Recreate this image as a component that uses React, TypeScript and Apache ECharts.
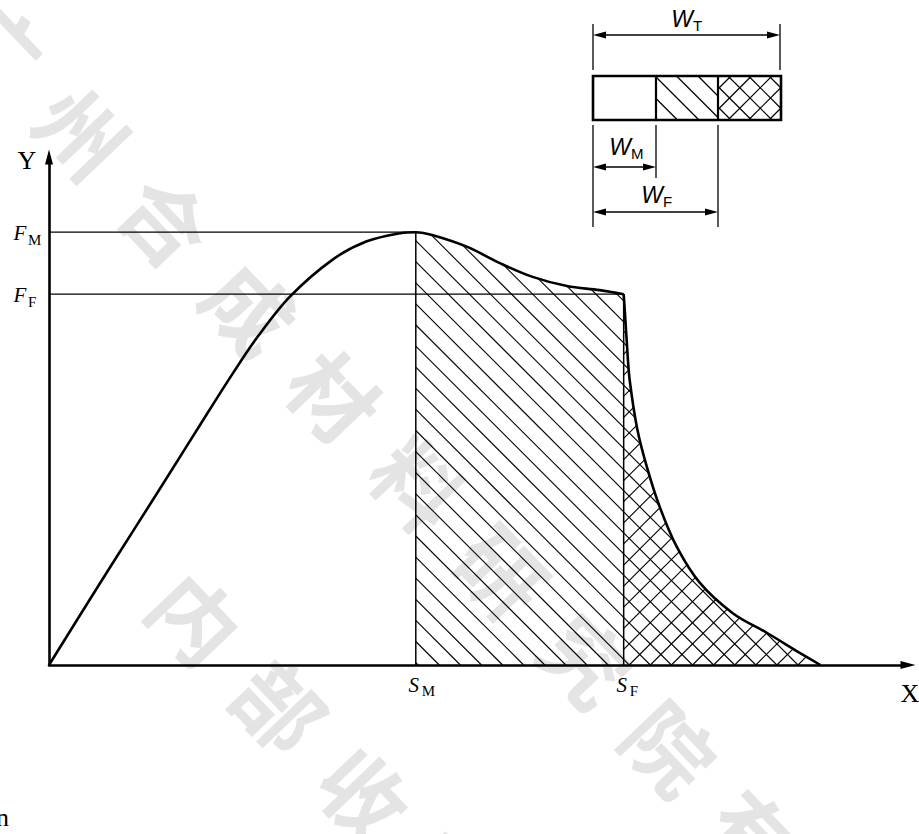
import React, { useEffect, useRef } from "react";
import * as echarts from "echarts";

// ---- data (arbitrary units, 0..100 on both axes) ----
const riseX = [0, 5.9, 9.8, 13.7, 17.6, 21.4, 24.2, 28.1, 33.1, 37.0, 40.9, 42.7, 44.7, 48.7, 52.5, 56.3, 60.3, 64.1, 66.9];
const riseY = [0, 16.0, 26.4, 36.8, 47.3, 57.4, 64.4, 72.6, 79.9, 83.4, 85.0, 85.2, 84.6, 82.3, 79.1, 76.4, 74.6, 73.8, 73.0];
const dropX = [66.9, 67.05, 67.3, 67.6, 68.5, 69.6, 71.1, 73.1, 75.8, 79.6, 83.6, 87.4, 89.8];
const dropY = [73.0, 69.3, 62.6, 56.1, 46.3, 39.0, 31.1, 23.2, 16.1, 10.2, 6.3, 2.4, 0];

const S_M = 42.7;
const S_F = 66.9;
const F_M = 85.2;
const F_F = 73.0;
const HATCH_ANCHOR_X = 70.0;

const yMarkValues = [F_M, F_F];
const yMarkSubs = ["M", "F"];
const xMarkValues = [S_M, S_F];
const xMarkSubs = ["M", "F"];
const axisNames = ["X", "Y"];
const insetSubs = ["T", "M", "F"];

const watermarkLine1 = "广州合成材料研究院有限公司";
const watermarkLine2 = "内部收藏";

type Pt = number[];

function hatch(poly: Pt[], dir: number, spacing: number, phase: number): Pt[][] {
  const f = (p: Pt) => (dir === 1 ? p[0] - p[1] : p[0] + p[1]);
  const vals = poly.map(f);
  const min = Math.min(...vals);
  const max = Math.max(...vals);
  const segs: Pt[][] = [];
  let c = phase + Math.ceil((min - phase) / spacing) * spacing;
  for (; c <= max; c += spacing) {
    const pts: Pt[] = [];
    for (let i = 0; i < poly.length; i++) {
      const a = poly[i];
      const b = poly[(i + 1) % poly.length];
      const fa = f(a) - c;
      const fb = f(b) - c;
      if ((fa < 0 && fb >= 0) || (fb < 0 && fa >= 0)) {
        const t = fa / (fa - fb);
        pts.push([a[0] + t * (b[0] - a[0]), a[1] + t * (b[1] - a[1])]);
      }
    }
    pts.sort((p, q) => p[0] - q[0]);
    for (let k = 0; k + 1 < pts.length; k += 2) segs.push([pts[k], pts[k + 1]]);
  }
  return segs;
}

const lineEl = (x1: number, y1: number, x2: number, y2: number, w: number, z = 5) => ({
  type: "line",
  z,
  shape: { x1, y1, x2, y2 },
  style: { stroke: "#000", lineWidth: w },
});

const textEl = (
  text: string,
  x: number,
  y: number,
  font: string,
  align = "center",
  vAlign = "middle",
  extra: any = {}
) => ({
  type: "text",
  x,
  y,
  ...extra,
  style: {
    text,
    font,
    fill: extra.fill || "#000",
    align,
    verticalAlign: vAlign,
    textAlign: align,
    textVerticalAlign: vAlign,
  },
});

const arrowHead = (tx: number, ty: number, dir: number) => ({
  type: "polygon",
  z: 6,
  shape: {
    points: [
      [tx, ty],
      [tx + dir * 13, ty - 3.5],
      [tx + dir * 13, ty + 3.5],
    ],
  },
  style: { fill: "#000" },
});

function buildGraphic() {
  const g: any[] = [];
  // watermark
  const step = [84, 88];
  const rot = -Math.atan2(step[1], step[0]);
  const wmFont = 'bold 86px "Noto Sans CJK SC"';
  Array.from(watermarkLine1).forEach((ch, i) => {
    g.push(textEl(ch, 0 + i * step[0], 42 + i * step[1], wmFont, "center", "middle", { rotation: rot, z: 0, fill: "#e4e4e4" }));
  });
  Array.from(watermarkLine2).forEach((ch, i) => {
    g.push(textEl(ch, 198 + i * step[0], 616 + i * step[1], wmFont, "center", "middle", { rotation: rot, z: 0, fill: "#e4e4e4" }));
  });

  // axis names
  g.push(textEl(axisNames[1], 27, 160, '26px "Liberation Serif"', "center", "middle", { z: 5 }));
  g.push(textEl(axisNames[0], 910, 693, '26px "Liberation Serif"', "center", "middle", { z: 5 }));

  // stray caption fragment bottom-left
  g.push(textEl("n", 9, 830, '26px "Liberation Serif"', "right", "bottom", { z: 5 }));

  // ---- inset schematic ----
  const bx = 593, by = 76, bw = 188, bh = 44;
  const d1 = 656, d2 = 718;
  g.push(lineEl(bx, 24, bx, 70, 1.3));
  g.push(lineEl(bx + bw - 1, 24, bx + bw - 1, 70, 1.3));
  g.push(lineEl(bx, 125, bx, 227, 1.3));
  g.push(lineEl(d1, 125, d1, 178, 1.3));
  g.push(lineEl(d2, 125, d2, 227, 1.3));
  const dims = [
    [bx, bx + bw - 1, 35],
    [bx, d1, 167],
    [bx, d2, 212],
  ];
  dims.forEach(([a, b, y]) => {
    g.push(lineEl(a + 4, y, b - 4, y, 1.3));
    g.push(arrowHead(a, y, 1));
    g.push(arrowHead(b, y, -1));
  });
  const cellM = [[d1, by], [d2, by], [d2, by + bh], [d1, by + bh]];
  const cellF = [[d2, by], [bx + bw, by], [bx + bw, by + bh], [d2, by + bh]];
  hatch(cellM, 1, 21.5, 579).forEach(([p, q]) => g.push(lineEl(p[0], p[1], q[0], q[1], 1.2)));
  hatch(cellF, 1, 20.5, 652).forEach(([p, q]) => g.push(lineEl(p[0], p[1], q[0], q[1], 1.2)));
  hatch(cellF, -1, 20.5, 848).forEach(([p, q]) => g.push(lineEl(p[0], p[1], q[0], q[1], 1.2)));
  g.push({ type: "rect", z: 7, shape: { x: bx, y: by, width: bw, height: bh }, style: { fill: "none", stroke: "#000", lineWidth: 2.6 } });
  g.push(lineEl(d1, by, d1, by + bh, 2.2, 7));
  g.push(lineEl(d2, by, d2, by + bh, 2.2, 7));
  const wFont = 'italic 23px "Liberation Sans"';
  const sFont = '15px "Liberation Sans"';
  const wPos = [
    [682, 19],
    [620, 147],
    [652, 195],
  ];
  wPos.forEach(([x, y], i) => {
    g.push(textEl("W", x, y, wFont, "center", "middle", { z: 6 }));
    g.push(textEl(insetSubs[i], x + 11, y + 6, sFont, "left", "middle", { z: 6 }));
  });
  return g;
}

const renderItem = (params: any, api: any) => {
  const P = (x: number, y: number) => api.coord([x, y]);
  const rise = riseX.map((x, i) => [x, riseY[i]]);
  const drop = dropX.map((x, i) => [x, dropY[i]]);
  const poly1 = [[S_M, 0], ...rise.filter((p) => p[0] >= S_M), [S_F, 0]].map((p) => P(p[0], p[1]));
  const poly2 = [[S_F, 0], ...drop].map((p) => P(p[0], p[1]));
  const anchor = P(HATCH_ANCHOR_X, 0);
  const phaseBack = anchor[0] - anchor[1];
  const phaseFwd = anchor[0] + anchor[1];
  const sp = 21.1;
  const children: any[] = [];
  const add = (segs: Pt[][]) =>
    segs.forEach(([a, b]) => children.push(lineEl(a[0], a[1], b[0], b[1], 1.1)));
  add(hatch(poly1, 1, sp, phaseBack));
  add(hatch(poly2, 1, sp, phaseBack));
  add(hatch(poly2, -1, sp, phaseFwd));

  const o = P(0, 0);
  const pm = P(S_M, F_M);
  const pf = P(S_F, F_F);
  children.push(lineEl(o[0], pm[1], pm[0], pm[1], 1.3));
  children.push(lineEl(o[0], pf[1], pf[0], pf[1], 1.3));
  children.push(lineEl(pm[0], o[1], pm[0], pm[1], 1.5));
  children.push(lineEl(pf[0], o[1], pf[0], pf[1], 1.5));

  const symFont = 'italic 21px "Liberation Serif"';
  const subFont = '15px "Liberation Serif"';
  yMarkValues.forEach((v, i) => {
    const p = P(0, v);
    children.push(textEl("F", p[0] - 29, p[1] + 1, symFont, "center", "middle"));
    children.push(textEl(yMarkSubs[i], p[0] - 21, p[1] + 8, subFont, "left", "middle"));
  });
  xMarkValues.forEach((v, i) => {
    const p = P(v, 0);
    children.push(textEl("S", p[0] - 2, p[1] + 20, symFont, "center", "middle"));
    children.push(textEl(xMarkSubs[i], p[0] + 6, p[1] + 26, subFont, "left", "middle"));
  });
  return { type: "group", children };
};

export default function App() {
  const ref = useRef<HTMLDivElement>(null);
  useEffect(() => {
    if (!ref.current) return;
    const chart = echarts.init(ref.current, null, { renderer: "svg" });
    const axisCommon = {
      type: "value",
      min: 0,
      max: 100,
      axisLine: {
        show: true,
        onZero: false,
        symbol: ["none", "triangle"],
        symbolSize: [8, 15],
        lineStyle: { color: "#000", width: 2.6 },
      },
      axisTick: { show: false },
      axisLabel: { show: false },
      splitLine: { show: false },
    };
    chart.setOption({
      animation: false,
      backgroundColor: "#fff",
      grid: { left: 49, right: 11, top: 157, bottom: 169 },
      xAxis: { ...axisCommon },
      yAxis: { ...axisCommon },
      series: [
        {
          type: "custom",
          coordinateSystem: "cartesian2d",
          renderItem,
          data: [[0, 0]],
          silent: true,
          clip: false,
          z: 3,
        },
        {
          type: "line",
          data: riseX.map((x, i) => [x, riseY[i]]),
          smooth: 0.35,
          showSymbol: false,
          lineStyle: { color: "#000", width: 2.6 },
          z: 6,
          silent: true,
        },
        {
          type: "line",
          data: dropX.map((x, i) => [x, dropY[i]]),
          smooth: 0.35,
          showSymbol: false,
          lineStyle: { color: "#000", width: 2.6 },
          z: 6,
          silent: true,
        },
      ],
      graphic: buildGraphic(),
    });
    return () => chart.dispose();
  }, []);
  return (
    <div
      ref={ref}
      style={{ position: "fixed", left: 0, top: 0, width: 919, height: 834, background: "#fff" }}
    />
  );
}
